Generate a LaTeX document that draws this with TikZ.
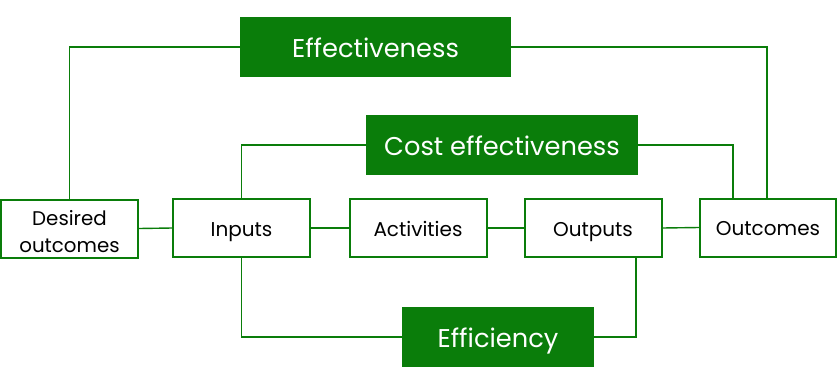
\documentclass[tikz,border=0pt]{standalone}
\usepackage{fontspec}
\setmainfont{Poppins}
\definecolor{dg}{HTML}{0A7D0A}
\begin{document}
\begin{tikzpicture}[x=1pt,y=-1pt,
  big/.style={draw=none,fill=dg,text=white,font=\fontsize{25.7}{30}\selectfont,minimum height=60pt,inner sep=0pt,text height=21pt,text depth=0pt},
  sm/.style={draw=dg,line width=2pt,fill=white,text=black,font=\fontsize{20}{24}\selectfont,minimum height=58pt,minimum width=137pt,inner sep=0pt,align=center},
  one/.style={text height=16pt,text depth=0pt},
  ln/.style={draw=dg,line width=1.4pt}]
\useasboundingbox (0,0) rectangle (838,386);
\node[big,minimum width=271pt] (eff) at (375.5,47) {Effectiveness};
\node[big,minimum width=272pt] (cost) at (502,145) {Cost effectiveness};
\node[big,minimum width=192pt] (effi) at (498,337) {Efficiency};
\node[sm,font=\fontsize{19.8}{27}\selectfont,text height=47pt,text depth=0pt] (des) at (69.5,228.5) {Desired\\outcomes};
\node[sm,one] (inp) at (241.5,228) {Inputs};
\node[sm,one] (act) at (418,228) {Activities};
\node[sm,one] (out) at (593,228) {Outputs};
\node[sm,one,minimum width=136pt] (oc) at (768,227.5) {Outcomes};
\draw[ln] (des.east) -- (inp.west);
\draw[ln] (inp.east) -- (act.west);
\draw[ln] (act.east) -- (out.west);
\draw[ln] (out.east) -- (oc.west);
\draw[ln] (eff.west) -| (des.north);
\draw[ln] (eff.east) -| ([xshift=-1pt]oc.north);
\draw[ln] (cost.west) -| (inp.north);
\draw[ln] (cost.east) -| ([xshift=-35pt]oc.north);
\draw[ln] (inp.south) |- (effi.west);
\draw[ln] (effi.east) -| ([xshift=43pt]out.south);
\end{tikzpicture}
\end{document}
